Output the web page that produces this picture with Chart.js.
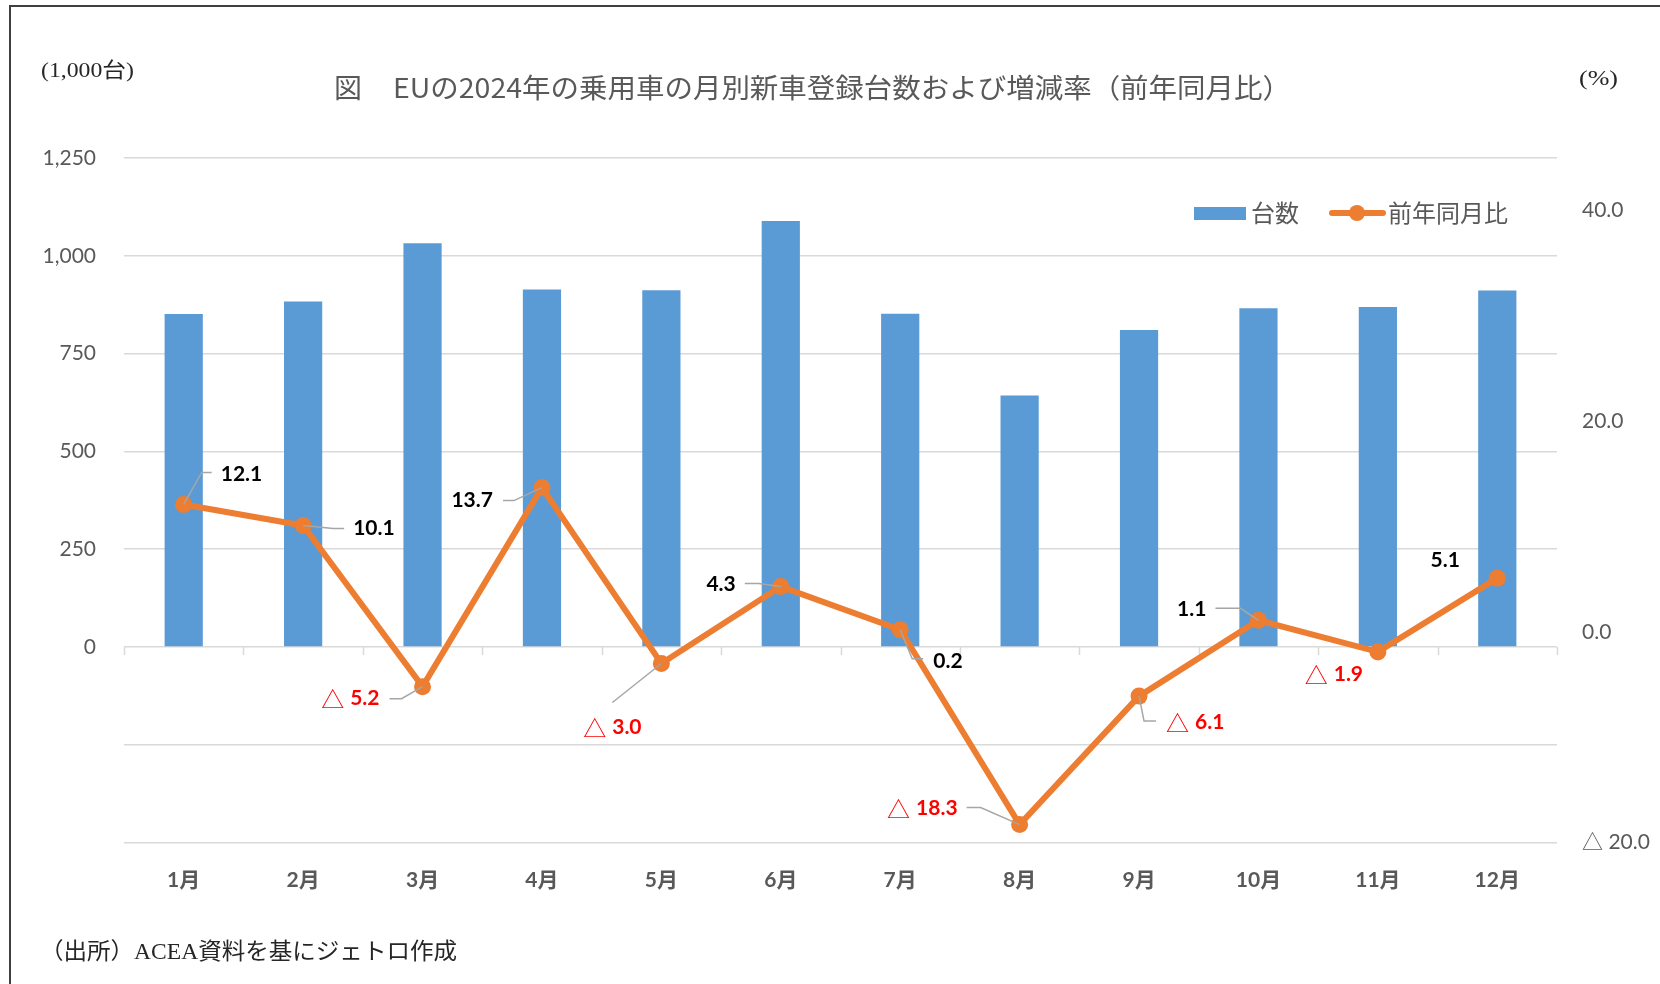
<!DOCTYPE html>
<html><head><meta charset="utf-8">
<script src="https://cdn.jsdelivr.net/npm/chart.js@4.4.1/dist/chart.umd.min.js"></script>
<style>
html,body{margin:0;padding:0;background:#fff;}
#wrap{position:relative;width:1660px;height:984px;overflow:hidden;background:#fff;}
#frame{position:absolute;left:9px;top:5px;width:1800px;height:1200px;border:2px solid #404040;box-sizing:border-box;pointer-events:none;}
canvas{position:absolute;left:0;top:0;}
</style></head><body>
<div id="wrap"><canvas id="c" width="1660" height="984"></canvas><div id="frame"></div></div>
<script>
// ---- data ----
const months = ['1月','2月','3月','4月','5月','6月','7月','8月','9月','10月','11月','12月'];
const units = [851, 883, 1032, 914, 912, 1089, 852, 643, 810, 866, 869, 911];   // 1,000台
const yoy = [12.1, 10.1, -5.2, 13.7, -3.0, 4.3, 0.2, -18.3, -6.1, 1.1, -1.9, 5.1]; // %
const leftTicks = [-500, -250, 0, 250, 500, 750, 1000, 1250];
const rightTicks = [-20, 0, 20, 40];
const seriesNames = ['台数', '前年同月比'];
const titleText = ['図', 'EUの2024年の乗用車の月別新車登録台数および増減率（前年同月比）'];
const unitLeft = '(1,000台)';
const unitRight = '(%)';
const sourceText = '（出所）ACEA資料を基にジェトロ作成';

// ---- styles / label placement ----
const BLUE = '#5B9BD5', ORANGE = '#ED7D31', GRAY = '#595959', GRID = '#D9D9D9';
const NUM_FONT = 'Lato, "Noto Sans CJK JP", sans-serif';
const CJK = '"Noto Sans CJK JP", sans-serif';
const labelLayout = [
  {align:'left',  dx:37,  dy:-30, leader:[[0,0],[18,-32],[28,-32]]},
  {align:'left',  dx:50,  dy:3,   leader:[[0,0],[30,3],[41,3]]},
  {align:'right', dx:-43, dy:12,  leader:[[0,0],[-21,12],[-33,12]]},
  {align:'right', dx:-49, dy:13,  leader:[[0,0],[-28,13],[-39,13]]},
  {align:'center',dx:-49, dy:64,  leader:[[0,0],[-49,39]]},
  {align:'right', dx:-45, dy:-2,  leader:[[0,0],[-22,-3],[-36,-3]]},
  {align:'left',  dx:33,  dy:31,  leader:[[0,0],[12,29],[23,29]]},
  {align:'right', dx:-62, dy:-16, leader:[[0,0],[-39,-17],[-53,-17]]},
  {align:'left',  dx:27,  dy:26,  leader:[[0,0],[5,25],[17,25]]},
  {align:'right', dx:-52, dy:-11, leader:[[0,0],[-18,-12],[-43,-12]]},
  {align:'center',dx:-44, dy:22,  leader:null},
  {align:'center',dx:-52, dy:-18, leader:null}
];

function fitText(ctx, text, x, y, width, font, color) {
  ctx.save();
  ctx.font = font; ctx.fillStyle = color;
  ctx.textBaseline = 'middle'; ctx.textAlign = 'left';
  const w = ctx.measureText(text).width;
  ctx.translate(x, y);
  ctx.scale(width / w, 1);
  ctx.fillText(text, 0, 0);
  ctx.restore();
}

const decor = {
  id: 'decor',
  beforeDatasetsDraw(chart) {
    const {ctx, scales} = chart;
    const xs = scales.x, y0 = scales.y.getPixelForValue(0);
    const n = months.length;
    const step = (xs.right - xs.left) / n;
    ctx.save();
    ctx.strokeStyle = GRID; ctx.lineWidth = 1.5;
    ctx.beginPath();
    for (let i = 0; i <= n; i++) {
      const x = Math.round(xs.left + i * step) + 0.5;
      ctx.moveTo(x, y0); ctx.lineTo(x, y0 + 8);
    }
    ctx.stroke();
    ctx.restore();
  },
  afterDatasetsDraw(chart) {
    const {ctx} = chart;
    const pts = chart.getDatasetMeta(0).data;
    ctx.save();
    yoy.forEach((v, i) => {
      const p = pts[i], L = labelLayout[i];
      if (L.leader) {
        ctx.strokeStyle = '#A6A6A6'; ctx.lineWidth = 1.5;
        ctx.beginPath();
        L.leader.forEach(([dx, dy], k) => {
          if (k === 0) ctx.moveTo(p.x + dx, p.y + dy); else ctx.lineTo(p.x + dx, p.y + dy);
        });
        ctx.stroke();
      }
      const neg = v < 0;
      const num = Math.abs(v).toFixed(1);
      const numFont = 'bold 21px ' + NUM_FONT;
      const triFont = '23px ' + CJK;
      ctx.font = numFont; const nw = ctx.measureText(num).width;
      let tw = 0, gap = 0;
      if (neg) { ctx.font = triFont; tw = ctx.measureText('△').width; gap = 6; }
      const total = tw + gap + nw;
      let x0;
      if (L.align === 'left') x0 = p.x + L.dx;
      else if (L.align === 'right') x0 = p.x + L.dx - total;
      else x0 = p.x + L.dx - total / 2;
      const yc = p.y + L.dy;
      ctx.textBaseline = 'middle'; ctx.textAlign = 'left';
      if (neg) {
        ctx.font = triFont; ctx.fillStyle = '#FF0000';
        ctx.fillText('△', x0, yc + 1);
      }
      ctx.font = numFont; ctx.fillStyle = neg ? '#FF0000' : '#000000';
      ctx.fillText(num, x0 + tw + gap, yc);
    });
    ctx.restore();
  },
  afterDraw(chart) {
    const {ctx} = chart;
    // title
    fitText(ctx, titleText[0], 334, 88, 28, '27px ' + CJK, GRAY);
    fitText(ctx, titleText[1], 393, 88, 898, '27px ' + CJK, GRAY);
    // unit labels and source
    fitText(ctx, unitLeft, 41, 71, 93, '21px "Liberation Serif", "Noto Sans CJK JP", serif', '#262626');
    fitText(ctx, unitRight, 1579, 79, 39, '21px "Liberation Serif", "Noto Sans CJK JP", serif', '#262626');
    fitText(ctx, sourceText, 40, 953, 417, '23px "Liberation Serif", "Noto Sans CJK JP", serif', '#262626');
    // legend
    ctx.save();
    ctx.fillStyle = BLUE;
    ctx.fillRect(1194, 207, 52, 13);
    ctx.font = '24px ' + CJK; ctx.fillStyle = GRAY;
    ctx.textBaseline = 'middle'; ctx.textAlign = 'left';
    ctx.fillText(seriesNames[0], 1251, 213);
    ctx.strokeStyle = ORANGE; ctx.lineWidth = 6; ctx.lineCap = 'round';
    ctx.beginPath(); ctx.moveTo(1332, 213); ctx.lineTo(1383, 213); ctx.stroke();
    ctx.fillStyle = ORANGE;
    ctx.beginPath(); ctx.arc(1357, 213, 8, 0, Math.PI * 2); ctx.fill();
    ctx.fillStyle = GRAY;
    ctx.fillText(seriesNames[1], 1388, 213);
    ctx.restore();
  }
};

new Chart(document.getElementById('c').getContext('2d'), {
  data: {
    labels: months,
    datasets: [
      {type:'line', label: seriesNames[1], data: yoy, yAxisID:'y1',
       borderColor: ORANGE, backgroundColor: ORANGE, borderWidth: 6,
       pointRadius: 8.5, pointBackgroundColor: ORANGE, pointBorderWidth: 0,
       tension: 0, order: 0, clip: false},
      {type:'bar', label: seriesNames[0], data: units, yAxisID:'y',
       backgroundColor: BLUE, barPercentage: 0.32, categoryPercentage: 1, order: 1}
    ]
  },
  options: {
    responsive: false, animation: false,
    layout: {padding: {top: 158, left: 0, right: 0, bottom: 0}},
    plugins: {legend: {display: false}, title: {display: false}, tooltip: {enabled: false}},
    scales: {
      x: {
        grid: {display: false, drawTicks: false}, border: {display: false},
        ticks: {color: GRAY, padding: 25, font: {family: NUM_FONT, size: 21, weight: 'bold'}},
        afterFit(s) { s.height = 141.5; }
      },
      y: {
        position: 'left', min: -500, max: 1250,
        afterBuildTicks(s) { s.ticks = leftTicks.map(v => ({value: v})); },
        grid: {color: GRID, lineWidth: 1.5, drawTicks: false}, border: {display: false},
        ticks: {color: GRAY, padding: 28, font: {family: NUM_FONT, size: 21},
                callback: v => v >= 0 ? v.toLocaleString('en-US') : ''},
        afterFit(s) { s.width = 124; }
      },
      y1: {
        position: 'right', min: -20, max: 45,
        afterBuildTicks(s) { s.ticks = rightTicks.map(v => ({value: v})); },
        grid: {display: false, drawTicks: false}, border: {display: false},
        ticks: {color: GRAY, padding: 25, font: {family: NUM_FONT, size: 21},
                callback: v => v < 0 ? '△ ' + (-v).toFixed(1) : v.toFixed(1)},
        afterFit(s) { s.width = 103; }
      }
    }
  },
  plugins: [decor]
});
</script>
</body></html>
